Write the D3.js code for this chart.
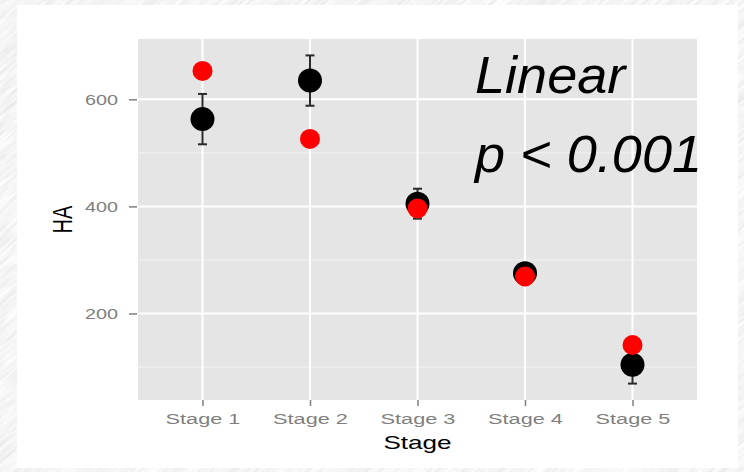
<!DOCTYPE html>
<html>
<head>
<meta charset="utf-8">
<script src="https://cdn.jsdelivr.net/npm/d3@7"></script>
<style>
  body { margin: 0; background: #e8e8e8; }
  svg { display: block; font-family: "Liberation Sans", Arial, Helvetica, sans-serif; }
</style>
</head>
<body>
<div id="chart"></div>
<script>
// data
var stages = ["Stage 1", "Stage 2", "Stage 3", "Stage 4", "Stage 5"];
var haMean = [563, 635, 405, 275, 104];   // black points
var haErr = [47, 47, 28, 8, 35];          // half length of the error bars
var haRed = [653, 526, 396, 269, 141];    // red points
var yTicks = [200, 400, 600];
var yMinor = [100, 300, 500];

var width = 744, height = 472;
var panel = { left: 138, right: 697, top: 39, bottom: 400 };

var svg = d3.select("#chart").append("svg")
    .attr("width", width)
    .attr("height", height);

// paper texture behind the white card
var defs = svg.append("defs");
var tex = defs.append("filter").attr("id", "tex")
    .attr("x", 0).attr("y", 0).attr("width", 1).attr("height", 1);
tex.append("feTurbulence")
    .attr("type", "fractalNoise")
    .attr("baseFrequency", "0.03 0.35")
    .attr("numOctaves", 3)
    .attr("seed", 4);
tex.append("feColorMatrix")
    .attr("type", "matrix")
    .attr("values", "0.3 0 0 0 0.76  0.3 0 0 0 0.76  0.3 0 0 0 0.76  0 0 0 0 1");

svg.append("g")
    .attr("transform", "rotate(-40 372 236)")
    .append("rect")
    .attr("x", -300).attr("y", -300)
    .attr("width", 1400).attr("height", 1100)
    .attr("filter", "url(#tex)");

svg.append("rect")
    .attr("x", 17).attr("y", 5)
    .attr("width", 721).attr("height", 463)
    .attr("fill", "#fff");

// scales
var allVals = [];
haMean.forEach(function (m, i) { allVals.push(m - haErr[i], m + haErr[i]); });
haRed.forEach(function (r) { allVals.push(r); });
var lo = d3.min(allVals), hi = d3.max(allVals);
var pad = (hi - lo) * 0.05;

var x = d3.scalePoint()
    .domain(stages)
    .range([panel.left, panel.right])
    .padding(0.6);

var y = d3.scaleLinear()
    .domain([lo - pad, hi + pad])
    .range([panel.bottom, panel.top]);

// grey panel and grid
svg.append("rect")
    .attr("x", panel.left).attr("y", panel.top)
    .attr("width", panel.right - panel.left)
    .attr("height", panel.bottom - panel.top)
    .attr("fill", "#e5e5e5");

svg.selectAll(".minor")
    .data(yMinor)
    .enter().append("line")
    .attr("class", "minor")
    .attr("x1", panel.left).attr("x2", panel.right)
    .attr("y1", function (d) { return y(d); })
    .attr("y2", function (d) { return y(d); })
    .attr("stroke", "#f2f2f2")
    .attr("stroke-width", 1);

svg.selectAll(".majorY")
    .data(yTicks)
    .enter().append("line")
    .attr("class", "majorY")
    .attr("x1", panel.left).attr("x2", panel.right)
    .attr("y1", function (d) { return y(d); })
    .attr("y2", function (d) { return y(d); })
    .attr("stroke", "#fff")
    .attr("stroke-width", 2);

svg.selectAll(".majorX")
    .data(stages)
    .enter().append("line")
    .attr("class", "majorX")
    .attr("x1", function (d) { return x(d); })
    .attr("x2", function (d) { return x(d); })
    .attr("y1", panel.top).attr("y2", panel.bottom)
    .attr("stroke", "#fff")
    .attr("stroke-width", 2);

// axes
var yAxis = svg.append("g")
    .attr("transform", "translate(" + (panel.left - 1) + ",0)")
    .call(d3.axisLeft(y).tickValues(yTicks).tickSize(8).tickSizeOuter(0));
yAxis.select(".domain").remove();
yAxis.selectAll("line").attr("stroke", "#7f7f7f").attr("stroke-width", 1.5);
yAxis.selectAll("text")
    .attr("x", 0)
    .attr("dy", "0.36em")
    .attr("transform", "translate(-19,0) scale(1.32,1)")
    .attr("fill", "#7f7f7f")
    .style("font-size", "15px");

var xAxis = svg.append("g")
    .attr("transform", "translate(0," + panel.bottom + ")")
    .call(d3.axisBottom(x).tickSize(6).tickSizeOuter(0));
xAxis.select(".domain").remove();
xAxis.selectAll("line").attr("stroke", "#7f7f7f").attr("stroke-width", 1.5);
xAxis.selectAll("text")
    .attr("y", 13)
    .attr("transform", "scale(1.4,1)")
    .attr("fill", "#7f7f7f")
    .style("font-size", "15.5px");

// axis titles
svg.append("text")
    .attr("transform", "translate(" + ((panel.left + panel.right) / 2) + ",449) scale(1.45,1)")
    .attr("text-anchor", "middle")
    .style("font-size", "18px")
    .attr("fill", "#000")
    .text("Stage");

svg.append("text")
    .attr("transform", "translate(72," + ((panel.top + panel.bottom) / 2) + ") scale(1.4,1) rotate(-90)")
    .attr("text-anchor", "middle")
    .style("font-size", "20px")
    .attr("fill", "#000")
    .text("HA");

// error bars
var bars = svg.selectAll(".err")
    .data(stages)
    .enter().append("g")
    .attr("class", "err")
    .attr("stroke", "#2a2a2a")
    .attr("stroke-width", 2);
bars.append("line")
    .attr("x1", function (d) { return x(d); })
    .attr("x2", function (d) { return x(d); })
    .attr("y1", function (d, i) { return y(haMean[i] - haErr[i]); })
    .attr("y2", function (d, i) { return y(haMean[i] + haErr[i]); });
[-1, 1].forEach(function (s) {
    bars.append("line")
        .attr("x1", function (d) { return x(d) - 4.5; })
        .attr("x2", function (d) { return x(d) + 4.5; })
        .attr("y1", function (d, i) { return y(haMean[i] + s * haErr[i]); })
        .attr("y2", function (d, i) { return y(haMean[i] + s * haErr[i]); });
});

// points
svg.selectAll(".black")
    .data(stages)
    .enter().append("circle")
    .attr("class", "black")
    .attr("cx", function (d) { return x(d); })
    .attr("cy", function (d, i) { return y(haMean[i]); })
    .attr("r", 12)
    .attr("fill", "#000");

svg.selectAll(".red")
    .data(stages)
    .enter().append("circle")
    .attr("class", "red")
    .attr("cx", function (d) { return x(d); })
    .attr("cy", function (d, i) { return y(haRed[i]); })
    .attr("r", 10)
    .attr("fill", "#f00");

// annotation
var note = svg.append("g")
    .attr("transform", "translate(475,0) scale(1.04,1)")
    .style("font-style", "italic")
    .style("font-size", "52px")
    .attr("fill", "#000");
note.append("text").attr("x", 0).attr("y", 93).text("Linear");
note.append("text").attr("x", 0).attr("y", 172).text("p < 0.001");
</script>
</body>
</html>
